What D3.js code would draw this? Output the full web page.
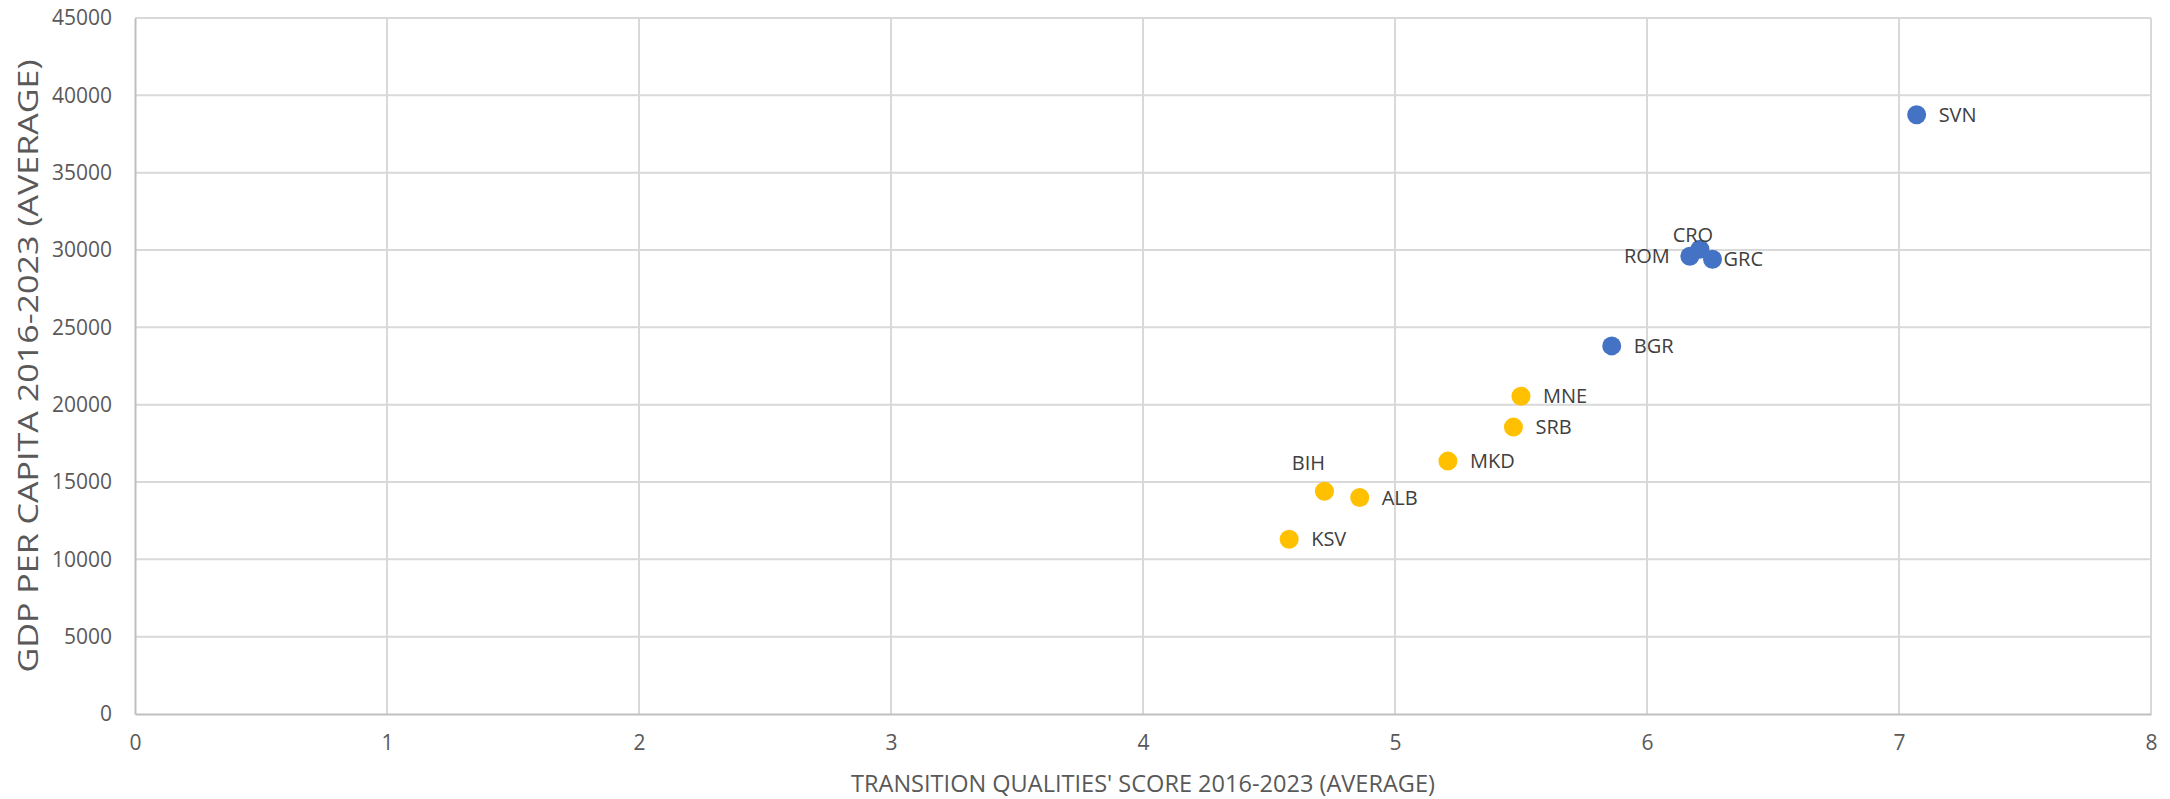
<!DOCTYPE html>
<html>
<head>
<meta charset="utf-8">
<script src="https://cdn.jsdelivr.net/npm/d3@7"></script>
<style>
  html, body { margin: 0; padding: 0; background: #ffffff; }
  svg { display: block; }
  text { font-family: "Open Sans", "Noto Sans", sans-serif; }
</style>
</head>
<body>
<svg id="chart" width="2170" height="799"></svg>
<script>
// Country codes and their averages for 2016-2023
const countries = ["SVN", "CRO", "ROM", "GRC", "BGR", "MNE", "SRB", "MKD", "BIH", "ALB", "KSV"];
const transitionScore = [7.07, 6.21, 6.17, 6.26, 5.86, 5.50, 5.47, 5.21, 4.72, 4.86, 4.58];
const gdpPerCapita = [38750, 30050, 29600, 29400, 23800, 20550, 18550, 16350, 14400, 14000, 11300];
// EU members vs. Western Balkans
const groups = ["EU", "EU", "EU", "EU", "EU", "WB", "WB", "WB", "WB", "WB", "WB"];

const xTicks = [0, 1, 2, 3, 4, 5, 6, 7, 8];
const yTicks = [0, 5000, 10000, 15000, 20000, 25000, 30000, 35000, 40000, 45000];

const xTitle = "TRANSITION QUALITIES' SCORE 2016-2023 (AVERAGE)";
const yTitle = "GDP PER CAPITA 2016-2023 (AVERAGE)";

const groupColor = { EU: "#4472C4", WB: "#FFC000" };

const svg = d3.select("#chart");
const W = 2170, H = 799;
const m = { left: 135, right: W - 2151, top: 18, bottom: H - 714 };

const x = d3.scaleLinear().domain([0, 8]).range([m.left, W - m.right]);
const y = d3.scaleLinear().domain([0, 45000]).range([H - m.bottom, m.top]);

// Gridlines
const grid = svg.append("g");
grid.selectAll("line.h").data(yTicks.filter(d => d > 0)).join("line")
  .attr("x1", x(0)).attr("x2", x(8))
  .attr("y1", d => y(d)).attr("y2", d => y(d))
  .attr("stroke", "#d9d9d9").attr("stroke-width", 2);
grid.selectAll("line.v").data(xTicks.filter(d => d > 0)).join("line")
  .attr("x1", d => x(d)).attr("x2", d => x(d))
  .attr("y1", y(0)).attr("y2", y(45000))
  .attr("stroke", "#d9d9d9").attr("stroke-width", 2);

// Axes
const xAxis = svg.append("g")
  .attr("transform", `translate(0,${y(0)})`)
  .call(d3.axisBottom(x).tickValues(xTicks).tickSize(0).tickPadding(21).tickFormat(d3.format("d")));
const yAxis = svg.append("g")
  .attr("transform", `translate(${x(0)},0)`)
  .call(d3.axisLeft(y).tickValues(yTicks).tickSize(0).tickPadding(23).tickFormat(d3.format("d")));

[xAxis, yAxis].forEach(a => {
  a.select(".domain").attr("stroke", "#bfbfbf").attr("stroke-width", 2);
  a.selectAll("text")
    .attr("fill", "#595959")
    .style("font-size", "21px")
    .style("font-family", "'Open Sans', sans-serif");
});
xAxis.selectAll("text").attr("dy", "0.71em");

// Axis titles
svg.append("text")
  .attr("x", (x(0) + x(8)) / 2)
  .attr("y", 792)
  .attr("text-anchor", "middle")
  .attr("fill", "#595959")
  .attr("textLength", 584)
  .attr("lengthAdjust", "spacingAndGlyphs")
  .style("font-size", "23px")
  .text(xTitle);

svg.append("text")
  .attr("transform", `translate(38,${(y(0) + y(45000)) / 2}) rotate(-90)`)
  .attr("text-anchor", "middle")
  .attr("fill", "#595959")
  .attr("textLength", 613)
  .attr("lengthAdjust", "spacingAndGlyphs")
  .style("font-size", "28px")
  .text(yTitle);

// Points
const pts = countries.map((c, i) => ({
  name: c, sx: transitionScore[i], gdp: gdpPerCapita[i], group: groups[i]
}));

svg.append("g").selectAll("circle").data(pts).join("circle")
  .attr("cx", d => x(d.sx))
  .attr("cy", d => y(d.gdp))
  .attr("r", 9.5)
  .attr("fill", d => groupColor[d.group]);

// Data labels: default to the right of the marker, a few nudged to avoid overlaps
const labelNudge = {
  ROM: { dx: -20, dy: 0, anchor: "end" },
  CRO: { dx: -7, dy: -14, anchor: "middle" },
  GRC: { dx: 11, dy: 0, anchor: "start" },
  BIH: { dx: -16, dy: -28, anchor: "middle" }
};

svg.append("g").selectAll("text").data(pts).join("text")
  .each(function (d) {
    const n = labelNudge[d.name] || { dx: 22, dy: 0, anchor: "start" };
    d3.select(this)
      .attr("x", x(d.sx) + n.dx)
      .attr("y", y(d.gdp) + n.dy)
      .attr("text-anchor", n.anchor);
  })
  .attr("dy", "0.36em")
  .attr("fill", "#404040")
  .style("font-size", "20px")
  .text(d => d.name);
</script>
</body>
</html>
